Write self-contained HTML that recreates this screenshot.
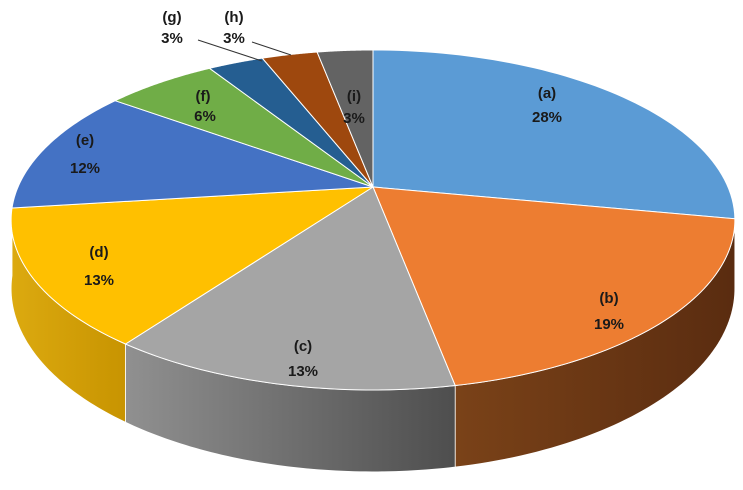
<!DOCTYPE html>
<html><head><meta charset="utf-8">
<style>
html,body{margin:0;padding:0;background:#fff;}
svg{display:block;}
text{font-family:"Liberation Sans",Arial,sans-serif;font-weight:bold;font-size:15px;fill:#1a1a1a;text-anchor:middle;}
</style></head>
<body>
<svg id="s" width="743" height="490" viewBox="0 0 743 490" xmlns="http://www.w3.org/2000/svg">
<defs>
<linearGradient id="gb" gradientUnits="userSpaceOnUse" x1="455" y1="0" x2="735" y2="0"><stop offset="0" stop-color="#7a4218"/><stop offset="1" stop-color="#5a2c10"/></linearGradient>
<linearGradient id="gc" gradientUnits="userSpaceOnUse" x1="126" y1="0" x2="455" y2="0"><stop offset="0" stop-color="#909090"/><stop offset="1" stop-color="#4e4e4e"/></linearGradient>
<linearGradient id="gd" gradientUnits="userSpaceOnUse" x1="10" y1="0" x2="130" y2="0"><stop offset="0" stop-color="#dcaa10"/><stop offset="1" stop-color="#c79300"/></linearGradient>
<linearGradient id="ga" gradientUnits="userSpaceOnUse" x1="700" y1="0" x2="740" y2="0"><stop offset="0" stop-color="#3d6e9e"/><stop offset="1" stop-color="#2f5a85"/></linearGradient>
</defs>
<g id="g"></g>
<line x1="198" y1="40" x2="262" y2="61" stroke="#333" stroke-width="1"/>
<line x1="252" y1="42" x2="291" y2="55" stroke="#333" stroke-width="1"/>
<text x="547" y="98">(a)</text><text x="547" y="122">28%</text>
<text x="609" y="303">(b)</text><text x="609" y="329">19%</text>
<text x="303" y="351">(c)</text><text x="303" y="376">13%</text>
<text x="99" y="257">(d)</text><text x="99" y="285">13%</text>
<text x="85" y="145">(e)</text><text x="85" y="173">12%</text>
<text x="203" y="101">(f)</text><text x="205" y="121">6%</text>
<text x="172" y="22">(g)</text><text x="172" y="43">3%</text>
<text x="234" y="22">(h)</text><text x="234" y="43">3%</text>
<text x="354" y="101">(i)</text><text x="354" y="123">3%</text>
</svg>
<script>
var cx=373,cy=187,s=355,sk=163.6,p=0.194,h0=66;
function P(t,down){var X=Math.sin(t),Y=-Math.cos(t),w=1-p*Y;
 return [cx+s*X/w, cy+sk*Y/w+(down?h0/w:0)];}
var vals=[28,19,13,13,12,6,3,3,3];
var topC=["#5b9bd5","#ed7d31","#a5a5a5","#ffc000","#4472c4","#70ad47","#255e91","#9e480e","#636363"];
var sideC=["url(#ga)","url(#gb)","url(#gc)","url(#gd)",null,null,null,null,null];
var g=document.getElementById("g");
var sides="",tops="",a0=0;
for(var i=0;i<vals.length;i++){
 var a1=a0+vals[i]/100*2*Math.PI,n=60,up=[],dn=[];
 for(var k=0;k<=n;k++){var t=a0+(a1-a0)*k/n;up.push(P(t,0));dn.push(P(t,1));}
 if(sideC[i]){
 var d="M"+up.map(function(q){return q[0].toFixed(2)+","+q[1].toFixed(2)}).join(" L");
 d+=" L"+dn.slice().reverse().map(function(q){return q[0].toFixed(2)+","+q[1].toFixed(2)}).join(" L")+"Z";
 sides+='<path d="'+d+'" fill="'+sideC[i]+'" stroke="#fff" stroke-width="0.8"/>';}
 var dt="M"+cx+","+cy+" L"+up.map(function(q){return q[0].toFixed(2)+","+q[1].toFixed(2)}).join(" L")+"Z";
 tops+='<path d="'+dt+'" fill="'+topC[i]+'" stroke="#fff" stroke-width="1"/>';
 a0=a1;}
g.innerHTML=sides+tops;
</script>
</body></html>
